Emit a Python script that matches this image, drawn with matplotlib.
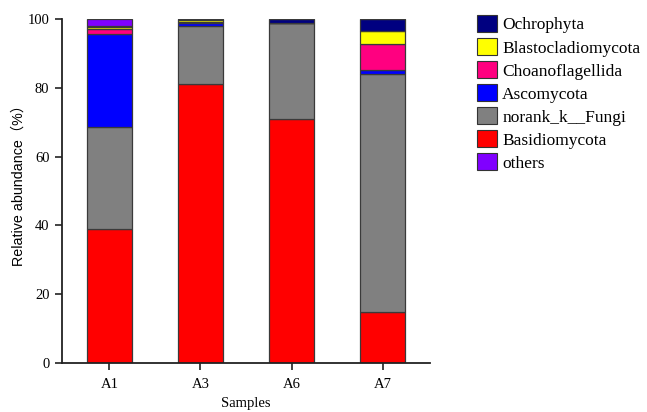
import numpy as np
import matplotlib.pyplot as plt
from matplotlib.patches import Patch

plt.rcParams["font.family"] = ["Liberation Serif", "Noto Sans CJK SC"]

samples = ["A1", "A3", "A6", "A7"]

# stacked bottom -> top
basidiomycota = [39.0, 81.0, 71.0, 14.7]
norank_fungi = [29.5, 17.1, 27.8, 69.2]
ascomycota = [27.2, 0.7, 0.05, 1.3]
choanoflagellida = [1.3, 0.4, 0.05, 7.6]
blastocladiomycota = [0.7, 0.5, 0.05, 3.8]
ochrophyta = [0.3, 0.3, 1.0, 3.4]
others = [2.0, 0.0, 0.05, 0.0]

layers = [
    ("Basidiomycota", basidiomycota, "#FF0000"),
    ("norank_k__Fungi", norank_fungi, "#808080"),
    ("Ascomycota", ascomycota, "#0000FF"),
    ("Choanoflagellida", choanoflagellida, "#FF0080"),
    ("Blastocladiomycota", blastocladiomycota, "#FFFF00"),
    ("Ochrophyta", ochrophyta, "#000080"),
    ("others", others, "#8000FF"),
]
legend_order = ["Ochrophyta", "Blastocladiomycota", "Choanoflagellida",
                "Ascomycota", "norank_k__Fungi", "Basidiomycota", "others"]

fig = plt.figure(figsize=(6.47, 4.12), dpi=100)
ax = fig.add_axes([62 / 647, 1 - 363 / 412, (430 - 62) / 647, (363 - 19) / 412])

x = np.arange(len(samples))
bottom = np.zeros(len(samples))
colors = {}
for name, vals, c in layers:
    ax.bar(x, vals, width=0.5, bottom=bottom, color=c,
           edgecolor="#3a3a3a", linewidth=0.9)
    bottom += np.array(vals)
    colors[name] = c

ax.set_xlim(-0.52, 3.52)
ax.set_ylim(0, 100)
ax.set_yticks(range(0, 101, 20))
ax.set_xticks(x)
ax.set_xticklabels(samples)
ax.tick_params(labelsize=10.5, direction="out", length=5, width=1.2,
               color="#222222", pad=4)
ax.tick_params(axis="x", pad=6)
for s in ["left", "bottom"]:
    ax.spines[s].set_linewidth(1.3)
    ax.spines[s].set_color("#222222")
ax.spines["top"].set_visible(False)
ax.spines["right"].set_visible(False)

# axis titles placed directly in figure coords
fig.text(246 / 647, 1 - 404 / 412, "Samples", fontsize=10.5,
         ha="center", va="center")
fig.text(19 / 647, 1 - 182 / 412, "Relative abundance（%）", fontsize=10.3,
         rotation=90, ha="center", va="center",
         family=["Liberation Sans", "Noto Sans CJK SC"])

handles = [Patch(facecolor=colors[n], edgecolor="#333333", linewidth=0.8)
           for n in legend_order]
fig.legend(handles, legend_order, loc="upper left",
           bbox_to_anchor=(477 / 647, 1 - 15 / 412), frameon=False,
           fontsize=12.5, handlelength=1.15, handleheight=1.15,
           labelspacing=0.26, handletextpad=0.3, borderpad=0,
           borderaxespad=0)

fig.savefig("out.png", dpi=100)
